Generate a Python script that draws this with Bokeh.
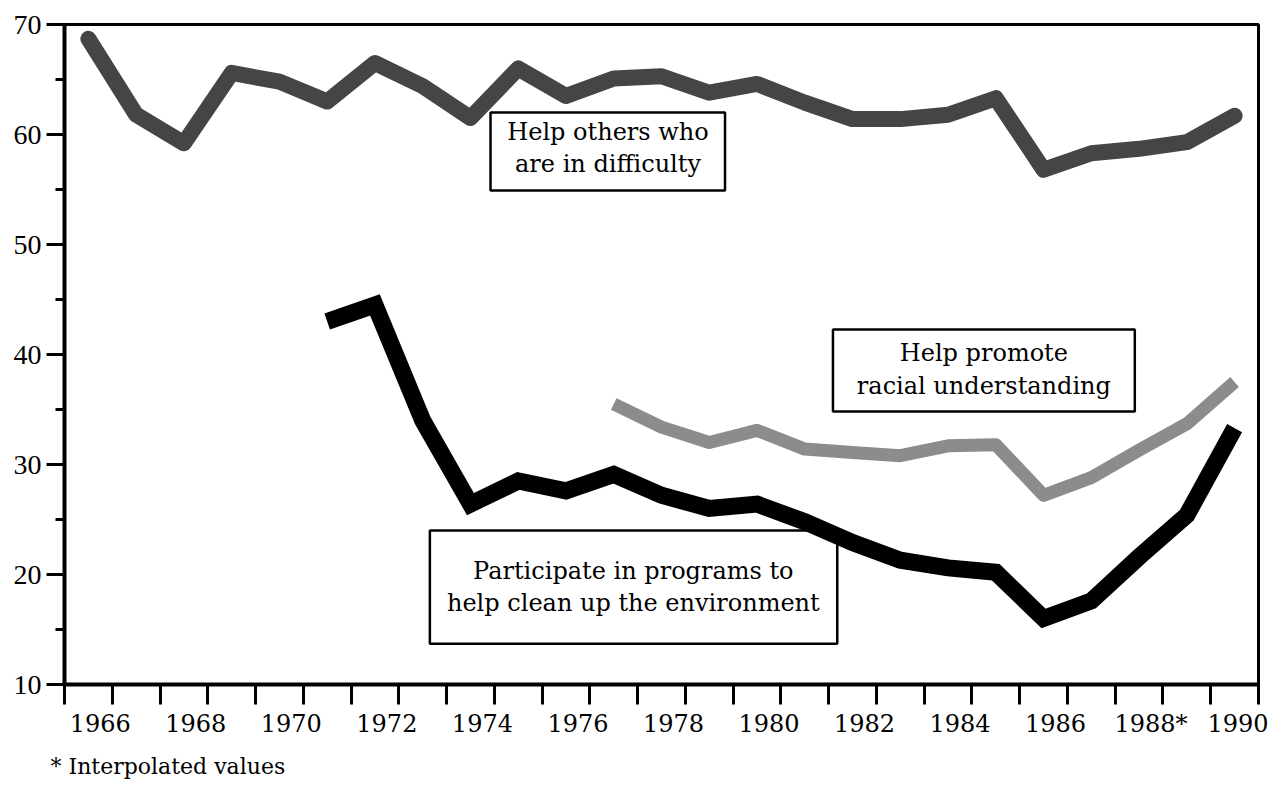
from bokeh.plotting import figure
from bokeh.models import FixedTicker, Range1d, BoxAnnotation, Title
from bokeh.core.properties import value
from bokeh.embed import file_html
from bokeh.resources import INLINE

# ---------------- data ----------------
years = list(range(1966, 1991))
help_others = [68.7, 61.8, 59.2, 65.6, 64.8, 63.0, 66.5, 64.4, 61.5, 66.0,
               63.5, 65.1, 65.3, 63.8, 64.6, 62.9, 61.4, 61.4, 61.8, 63.3,
               56.8, 58.3, 58.7, 59.3, 61.7]

env_years = list(range(1971, 1991))
environment = [43.0, 44.5, 34.0, 26.4, 28.5, 27.6, 29.1, 27.2, 26.0, 26.4,
               24.8, 22.9, 21.3, 20.6, 20.2, 16.0, 17.6, 21.6, 25.4, 33.3]

racial_years = list(range(1977, 1991))
racial = [35.5, 33.4, 32.0, 33.1, 31.4, 31.1, 30.8, 31.7, 31.8, 27.2,
          28.8, 31.3, 33.7, 37.5]

x_label_years = list(range(1966, 1991, 2))
x_tick_labels = ["1966", "1968", "1970", "1972", "1974", "1976", "1978",
                 "1980", "1982", "1984", "1986", "1988*", "1990"]
y_major = [10, 20, 30, 40, 50, 60, 70]
y_minor = [15, 25, 35, 45, 55, 65]

labels_text = {
    "others": ["Help others who", "are in difficulty"],
    "racial": ["Help promote", "racial understanding"],
    "env": ["Participate in programs to", "help clean up the environment"],
}
footnote = "* Interpolated values"

# ---------------- figure ----------------
p = figure(frame_width=1194, frame_height=660,
           x_range=Range1d(1965.5, 1990.5), y_range=Range1d(10, 70),
           output_backend="svg", toolbar_location=None,
           min_border_left=64, min_border_right=10,
           min_border_top=24, min_border_bottom=100)

p.xgrid.visible = False
p.ygrid.visible = False
p.background_fill_color = "white"
p.border_fill_color = "white"
p.outline_line_color = "black"
p.outline_line_width = 3
p.outline_line_alpha = 1.0

# x axis: year boundaries as tick marks, labels placed under each year
label_pos = [y + 0.25 for y in x_label_years]
p.xaxis.ticker = FixedTicker(ticks=label_pos,
                             minor_ticks=[y - 0.5 for y in years] + [years[-1] + 0.5])
p.xaxis.major_label_overrides = {pos: lab for pos, lab in zip(label_pos, x_tick_labels)}
p.xaxis.major_tick_line_color = None
p.xaxis.major_tick_out = 20
p.xaxis.major_tick_in = 0
p.xaxis.minor_tick_line_color = "black"
p.xaxis.minor_tick_line_width = 3
p.xaxis.minor_tick_out = 20
p.xaxis.minor_tick_in = 0
p.xaxis.axis_line_width = 4
p.xaxis.axis_line_color = "black"
p.xaxis.major_label_standoff = 5
p.xaxis.major_label_text_font = "DejaVu Serif"
p.xaxis.major_label_text_font_size = "24px"
p.xaxis.major_label_text_color = "black"

# y axis
p.yaxis.ticker = FixedTicker(ticks=y_major, minor_ticks=y_minor)
p.yaxis.major_tick_line_width = 3
p.yaxis.major_tick_out = 18
p.yaxis.major_tick_in = 0
p.yaxis.minor_tick_line_color = "black"
p.yaxis.minor_tick_line_width = 3
p.yaxis.minor_tick_out = 9
p.yaxis.minor_tick_in = 0
p.yaxis.axis_line_width = 4
p.yaxis.axis_line_color = "black"
p.yaxis.major_label_standoff = 5
p.yaxis.major_label_text_font = "Liberation Serif"
p.yaxis.major_label_text_font_size = "28px"
p.yaxis.major_label_text_color = "black"

# ---------------- label boxes (behind the lines) ----------------
box_style = dict(fill_color="white", fill_alpha=1.0, line_color="black",
                 line_alpha=1.0, line_width=2.5, level="underlay")
p.add_layout(BoxAnnotation(left=1974.42, right=1979.33, top=62.0, bottom=54.9, **box_style))
p.add_layout(BoxAnnotation(left=1981.59, right=1987.91, top=42.27, bottom=34.82, **box_style))
p.add_layout(BoxAnnotation(left=1973.15, right=1981.68, top=24.0, bottom=13.7, **box_style))

# ---------------- series ----------------
p.line(racial_years, racial, line_color="#8c8c8c", line_width=13,
       line_join="round", line_cap="butt")
p.line(years, help_others, line_color="#454545", line_width=16,
       line_join="round", line_cap="round")
p.line(env_years, environment, line_color="black", line_width=17,
       line_join="miter", line_cap="butt")

# ---------------- box texts ----------------
txt = dict(text_font=value("DejaVu Serif"), text_font_size="24px",
           text_align="center", text_baseline="middle", text_color="black")
p.text(x=[1976.88, 1976.88], y=[60.2, 57.3], text=labels_text["others"], **txt)
p.text(x=[1984.75, 1984.75], y=[40.10, 37.10], text=labels_text["racial"], **txt)
p.text(x=[1977.41, 1977.41], y=[20.3, 17.4], text=labels_text["env"], **txt)

# footnote below the axis
p.add_layout(Title(text=footnote, align="left", offset=-14, standoff=23,
                   text_font="DejaVu Serif", text_font_size="22px",
                   text_font_style="normal", text_color="black"), "below")

open("out.html", "w").write(file_html(p, INLINE))
